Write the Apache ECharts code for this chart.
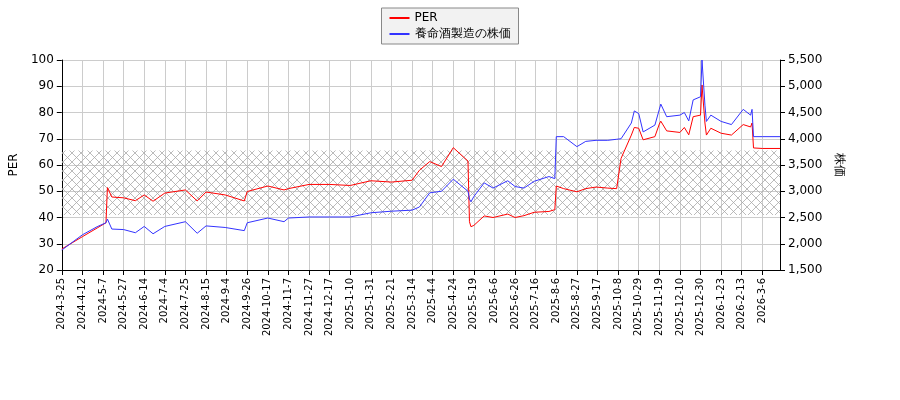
<!DOCTYPE html>
<html lang="ja">
<head>
<meta charset="UTF-8">
<script src="https://cdn.jsdelivr.net/npm/echarts@6/dist/echarts.min.js"></script>
<style>body{margin:0}#c{width:900px;height:400px}</style>
</head>
<body>
<div id="c"></div>
<script>
// 営業日（東証休場日を除く）
var holidays = ['2024-4-29','2024-5-3','2024-5-6','2024-7-15','2024-8-12','2024-9-16','2024-9-23','2024-10-14','2024-11-4','2024-12-31',
  '2025-1-1','2025-1-2','2025-1-3','2025-1-13','2025-2-11','2025-2-24','2025-3-20','2025-4-29','2025-5-5','2025-5-6','2025-7-21','2025-8-11',
  '2025-9-15','2025-9-23','2025-10-13','2025-11-3','2025-11-24','2025-12-31','2026-1-1','2026-1-2','2026-1-12','2026-2-11','2026-2-23','2026-3-20'];
var dates = [];
var d = new Date(2024, 2, 25);
while (dates.length < 489) {
    var s = d.getFullYear() + '-' + (d.getMonth() + 1) + '-' + d.getDate();
    if (d.getDay() !== 0 && d.getDay() !== 6 && holidays.indexOf(s) < 0) dates.push(s);
    d.setDate(d.getDate() + 1);
}

// 読み取った値（営業日インデックス）
var keyIdx = [0,14,24,30,31,34,42,50,56,62,70,84,92,98,111,124,126,140,151,154,168,182,196,210,224,238,243,250,258,266,276,277,278,280,287,293,303,308,314,321,331,335,336,341,350,356,363,371,377,380,387,389,392,395,403,406,407,411,420,423,426,429,434,435,437,438,441,448,455,463,468,469,470,476,488];
var perVals = [28,32.7,36,38,51.4,47.8,47.5,46.4,48.6,46.2,49.3,50.5,46.3,49.7,48.6,46.3,49.9,52,50.5,51,52.6,52.6,52.2,54,53.5,54.2,58,61.3,59.4,66.6,61.5,38.4,36.5,37,40.6,40,41.3,40,40.7,42,42.3,43,52,51,49.8,51,51.6,51.2,51,62.5,71.4,74.3,74,69.6,70.8,75.6,76.7,73,72.4,74.3,71.5,78.4,79,90.5,76,71.4,74,72.1,71.4,75.4,74.5,76,66.5,66.3,66.3];
var priceVals = [1880,2170,2325,2400,2470,2280,2270,2210,2330,2190,2330,2420,2200,2340,2310,2250,2400,2490,2420,2490,2510,2510,2510,2590,2620,2640,2700,2970,3000,3230,3000,2850,2800,2900,3160,3060,3200,3090,3060,3190,3280,3240,4040,4040,3850,3950,3970,3970,3990,4000,4300,4530,4480,4130,4260,4560,4660,4420,4450,4500,4340,4740,4800,5500,4640,4330,4450,4330,4270,4560,4450,4560,4040,4040,4040];
var bandLow = 41, bandHigh = 65.5;

function spread(vals) {
    var out = dates.map(function () { return null; });
    keyIdx.forEach(function (k, i) { out[k] = vals[i]; });
    return out;
}

// 網掛けパターン
var pat = document.createElement('canvas');
pat.width = 9; pat.height = 9;
var g = pat.getContext('2d');
g.strokeStyle = '#aaa'; g.lineWidth = 0.8;
g.beginPath(); g.moveTo(0, 0); g.lineTo(9, 9); g.moveTo(9, 0); g.lineTo(0, 9); g.stroke();

var myChart = echarts.init(document.getElementById('c'));
var axisStyle = { lineStyle: { color: '#000' } };
myChart.setOption({
    animation: false,
    textStyle: { fontFamily: 'DejaVu Sans' },
    legend: {
        top: 8, left: 'center', orient: 'vertical',
        borderColor: '#888', borderWidth: 1, backgroundColor: '#f2f2f2',
        padding: [4, 8], itemGap: 4, itemWidth: 20, itemHeight: 2,
        textStyle: { fontSize: 12, color: '#000' },
        data: [{ name: 'PER', icon: 'rect' }, { name: '養命酒製造の株価', icon: 'rect' }]
    },
    grid: { left: 60, right: 120, top: 60, bottom: 130 },
    xAxis: {
        type: 'category', data: dates, boundaryGap: false,
        axisLine: axisStyle, axisTick: { interval: 13, lineStyle: { color: '#000' } },
        axisLabel: { interval: 13, rotate: 90, fontSize: 10, color: '#000' },
        splitLine: { show: true, interval: 13, lineStyle: { color: '#ccc' } }
    },
    yAxis: [{
        type: 'value', min: 20, max: 100, interval: 10, name: 'PER',
        nameLocation: 'middle', nameGap: 35, nameTextStyle: { color: '#000' },
        axisLine: { show: true, lineStyle: { color: '#000' } }, axisTick: { show: true },
        axisLabel: { color: '#000' }, splitLine: { lineStyle: { color: '#ccc' } }
    }, {
        type: 'value', min: 1500, max: 5500, interval: 500, name: '株価',
        nameLocation: 'middle', nameGap: 48, nameRotate: -90, nameTextStyle: { color: '#000' },
        axisLine: { show: true, lineStyle: { color: '#000' } }, axisTick: { show: true },
        axisLabel: { color: '#000' }, splitLine: { show: false }
    }],
    series: [{
        name: 'PER', type: 'line', data: spread(perVals), connectNulls: true,
        showSymbol: false, color: '#f00', lineStyle: { width: 1 },
        markArea: {
            silent: true, itemStyle: { color: { image: pat, repeat: 'repeat' } },
            data: [[{ yAxis: bandLow }, { yAxis: bandHigh }]]
        }
    }, {
        name: '養命酒製造の株価', type: 'line', yAxisIndex: 1, data: spread(priceVals),
        connectNulls: true, showSymbol: false, color: '#33f', lineStyle: { width: 1 }
    }]
});
</script>
</body>
</html>
